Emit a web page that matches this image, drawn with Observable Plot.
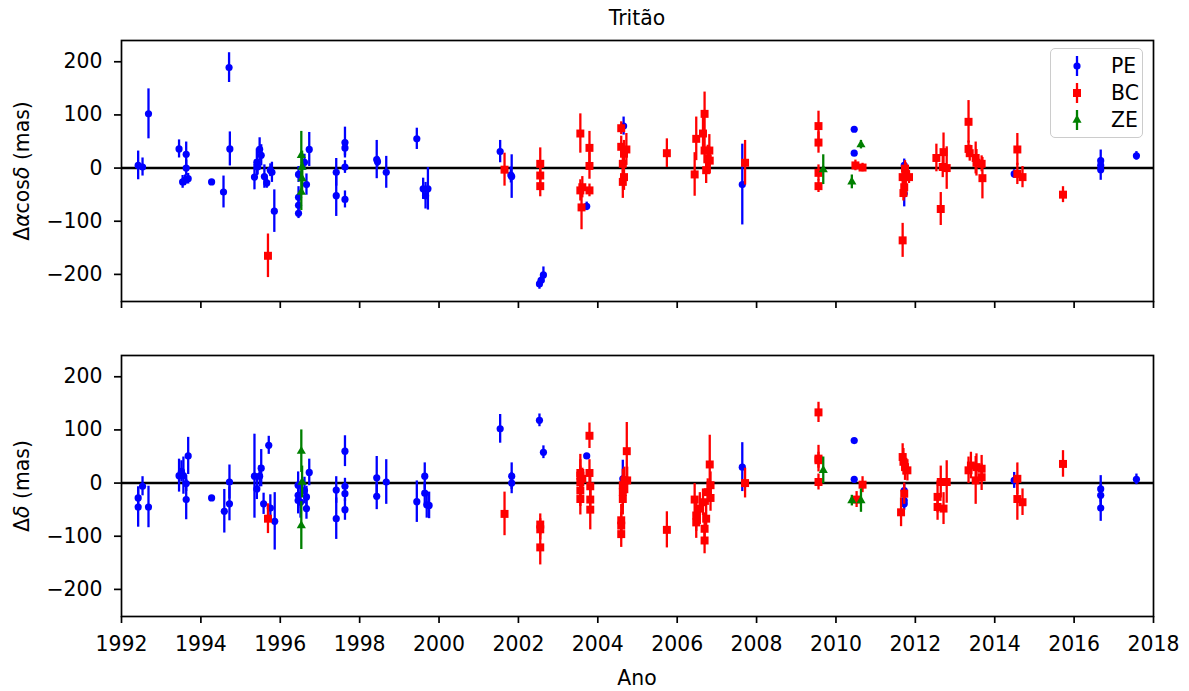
<!DOCTYPE html>
<html><head><meta charset="utf-8">
<script src="https://cdn.jsdelivr.net/npm/d3@7"></script>
<script src="https://cdn.jsdelivr.net/npm/@observablehq/plot@0.6"></script>
<style>
body{margin:0;background:#fff;font-family:"DejaVu Sans",sans-serif;}
#wrap{position:relative;width:1189px;height:691px;overflow:hidden;}
.abs{position:absolute;white-space:nowrap;font-size:20.4px;color:#000;line-height:1;}
.pl{position:absolute;left:0;}
</style>
</head><body><div id="wrap"></div>
<script>
// [epoch (year), offset (mas), uncertainty (mas)]
const peRA = [
[1992.42,5,27],[1992.53,2,17],[1992.68,102,47],[1993.45,36,17],[1993.63,26,23],[1993.63,0,15],
[1993.54,-26,12],[1993.68,-20,10],[1993.60,-23,10],[1994.27,-26,3],[1994.57,-45,30],[1994.71,189,28],
[1994.73,36,32],[1995.35,-17,24],[1995.41,11,25],[1995.48,35,22],[1995.52,24,20],[1995.43,2,15],
[1995.60,-16,22],[1995.66,-28,10],[1995.75,-4,12],[1995.79,-8,19],[1995.85,-81,40],
[1996.46,-12,15],[1996.46,-55,20],[1996.46,-70,20],[1996.46,-85,10],[1996.61,11,15],[1996.66,-31,20],[1996.73,35,32],
[1997.41,-8,26],[1997.41,-52,39],[1997.63,48,29],[1997.63,38,15],[1997.63,2,12],[1997.63,-59,16],
[1998.43,16,36],[1998.45,12,10],[1998.67,-8,30],[1999.44,55,20],[1999.60,-39,20],[1999.66,-52,25],[1999.72,-39,40],
[2001.54,31,21],[2001.83,-16,41],[2001.81,-13,15],[2002.53,-218,10],[2002.57,-211,10],[2002.63,-201,15],
[2003.72,-72,8],[2004.65,79,17],[2007.64,-31,76],
[2010.46,73,3],[2010.46,28,3],[2011.72,5,12],[2011.72,-48,25],[2014.49,-11,8],
[2016.67,14,20],[2016.67,5,15],[2016.67,-3,20],[2017.57,23,8]
];
const bcRA = [
[1995.69,-165,41],[2001.65,-3,31],[2002.55,8,30],[2002.55,-14,15],[2002.55,-34,20],
[2003.56,65,37],[2003.56,-42,20],[2003.59,-74,42],[2003.61,-36,20],[2003.79,38,31],[2003.79,4,25],[2003.79,-42,12],
[2004.59,75,12],[2004.59,40,20],[2004.63,8,20],[2004.66,-17,25],[2004.66,27,25],[2004.72,35,30],[2004.63,-26,31],
[2005.74,28,27],[2006.44,-12,41],[2006.48,55,41],[2006.69,102,41],[2006.65,65,30],[2006.69,33,25],[2006.73,-4,25],
[2006.77,18,25],[2006.81,33,30],[2006.82,14,25],[2007.71,10,42],
[2009.56,79,28],[2009.56,48,20],[2009.56,-9,15],[2009.56,-34,12],[2010.49,5,10],[2010.67,1,8],
[2011.68,-17,20],[2011.68,-136,32],[2011.72,-36,20],[2011.76,-11,20],[2011.70,-47,15],[2011.84,-17,12],[2011.74,-1,15],
[2012.53,19,26],[2012.64,-77,31],[2012.71,30,36],[2012.69,2,20],[2012.79,0,40],
[2013.34,87,40],[2013.34,36,15],[2013.37,28,15],[2013.52,19,30],[2013.54,10,25],[2013.67,8,15],[2013.69,-19,39],
[2014.57,35,30],[2014.57,-11,20],[2014.70,-17,20],[2015.72,-50,15]
];
const zeRA = [
[1996.53,24,45],[1996.55,2,30],[1996.55,-20,30],[1996.53,-45,35],
[2009.68,-3,28],[2010.40,-26,13],[2010.63,44,8]
];
const peDec = [
[1992.42,-28,20],[1992.42,-45,38],[1992.53,-6,18],[1992.68,-45,39],[1993.45,14,31],[1993.51,22,20],
[1993.56,14,35],[1993.63,-1,15],[1993.63,-31,38],[1993.68,51,35],[1994.27,-28,3],[1994.59,-53,41],
[1994.72,2,32],[1994.72,-39,32],[1995.35,13,79],[1995.41,-11,20],[1995.48,13,20],[1995.52,28,35],
[1995.58,-39,20],[1995.71,71,17],[1995.75,-47,25],[1995.86,-72,54],
[1996.45,-4,25],[1996.45,-23,25],[1996.45,-33,25],[1996.51,-36,30],[1996.61,-14,25],[1996.66,-26,20],[1996.66,-48,20],[1996.73,20,25],
[1997.41,-13,25],[1997.41,-67,39],[1997.63,60,29],[1997.63,-6,15],[1997.63,-20,15],[1997.63,-50,20],
[1998.43,10,40],[1998.43,-25,25],[1998.67,2,42],[1999.44,-35,39],[1999.64,13,25],[1999.64,-19,20],[1999.69,-41,25],[1999.75,-42,25],
[2001.54,102,27],[2001.83,13,25],[2001.83,0,20],[2002.53,118,12],[2002.63,58,12],[2003.72,51,3],[2004.63,8,35],[2007.64,30,46],
[2010.46,80,3],[2010.46,7,3],[2011.72,-14,12],[2011.72,-33,12],[2011.72,-39,12],[2014.49,5,15],
[2016.67,-11,25],[2016.67,-23,20],[2016.67,-47,25],[2017.57,7,10]
];
const bcDec = [
[1995.69,-67,28],[2001.65,-58,41],[2002.55,-78,20],[2002.55,-87,20],[2002.55,-121,33],
[2003.56,19,35],[2003.56,14,30],[2003.56,2,30],[2003.56,-14,30],[2003.56,-30,30],[2003.61,8,20],
[2003.79,89,24],[2003.79,19,25],[2003.81,-6,20],[2003.81,-31,20],[2003.81,-50,38],
[2004.59,-70,30],[2004.59,-80,25],[2004.59,-96,25],[2004.63,-4,30],[2004.63,-17,30],[2004.63,-30,30],[2004.67,5,25],[2004.73,60,54],[2004.74,5,25],
[2005.74,-88,34],[2006.44,-31,30],[2006.48,-61,30],[2006.48,-74,30],[2006.57,-48,30],[2006.65,-36,25],
[2006.69,-108,25],[2006.69,-86,30],[2006.73,-67,25],[2006.77,-17,25],[2006.82,35,55],[2006.84,-4,25],[2006.84,-28,25],[2007.71,0,28],
[2009.56,133,19],[2009.56,46,25],[2009.56,43,15],[2009.56,2,15],[2010.52,-31,15],[2010.67,-3,15],
[2011.64,-55,27],[2011.68,49,25],[2011.70,40,25],[2011.74,30,25],[2011.80,24,20],[2011.72,-20,20],
[2012.56,-26,30],[2012.56,-45,25],[2012.64,2,30],[2012.71,-48,30],[2012.79,2,40],
[2013.34,24,25],[2013.40,33,25],[2013.52,5,45],[2013.54,30,25],[2013.67,27,25],[2013.67,11,25],
[2014.57,8,30],[2014.57,-30,40],[2014.70,-36,25],[2015.72,36,25]
];
const zeDec = [
[1996.53,60,40],[1996.55,2,30],[1996.53,-80,45],
[2009.68,24,25],[2010.40,-33,10],[2010.63,-33,22]
];
const seriesNames = ["PE","BC","ZE"];
const seriesColors = ["#0000ff","#ff0000","#008000"];
const seriesSymbols = ["circle","square","triangle"];
const seriesR = [3.6,4.5,3.4];
const xTicks = [1992,1994,1996,1998,2000,2002,2004,2006,2008,2010,2012,2014,2016,2018];
const yTicks = [-200,-100,0,100,200];

const W = 1189, ML = 121, MR = 36;
const fmt = d => d < 0 ? "\u2212" + Math.abs(d) : String(d);

function seriesMarks(sets) {
  const out = [];
  sets.forEach((data, i) => {
    out.push(Plot.ruleX(data, {x: d => d[0], y1: d => d[1] - d[2], y2: d => d[1] + d[2], stroke: seriesColors[i], strokeWidth: 2.3}));
    out.push(Plot.dot(data, {x: d => d[0], y: d => d[1], fill: seriesColors[i], symbol: seriesSymbols[i], r: seriesR[i]}));
  });
  return out;
}

function panel(sets, showX, h, mt, mb) {
  return Plot.plot({
    width: W, height: h, marginLeft: ML, marginRight: MR, marginTop: mt, marginBottom: mb,
    style: {fontFamily: "DejaVu Sans, sans-serif", fontSize: "20.4px", color: "#000", background: "transparent", overflow: "visible"},
    x: {domain: [1992, 2018]},
    y: {domain: [-251, 240]},
    marks: [
      Plot.ruleY([0], {stroke: "black", strokeWidth: 2.5}),
      ...seriesMarks(sets),
      Plot.frame({stroke: "black", strokeWidth: 1.7}),
      Plot.axisX({ticks: xTicks, tickSize: 7, tickPadding: 13, strokeWidth: 1.7, label: null,
        tickFormat: showX ? (d => String(d)) : (() => "")}),
      Plot.axisY({ticks: yTicks, tickSize: 7, tickPadding: 12, strokeWidth: 1.7, label: null, tickFormat: fmt})
    ]
  });
}

const wrap = document.getElementById("wrap");
const p1 = panel([peRA, bcRA, zeRA], false, 310, 40, 9);
p1.classList.add("pl"); p1.style.top = "0px";
wrap.appendChild(p1);
const p2 = panel([peDec, bcDec, zeDec], true, 381, 45, 75);
p2.classList.add("pl"); p2.style.top = "310px";
wrap.appendChild(p2);

function addText(html, css) {
  const d = document.createElement("div");
  d.className = "abs";
  d.innerHTML = html;
  Object.assign(d.style, css);
  wrap.appendChild(d);
  return d;
}
addText("Trit\u00e3o", {left: ML + "px", width: (W - ML - MR) + "px", textAlign: "center", top: "8px"});
addText("Ano", {left: ML + "px", width: (W - ML - MR) + "px", textAlign: "center", top: "668px"});
addText("\u0394<i>\u03b1</i>cos<i>\u03b4</i> (mas)", {left: "22px", top: "171px", transform: "translate(-50%,-50%) rotate(-90deg)"});
addText("\u0394<i>\u03b4</i> (mas)", {left: "22px", top: "486px", transform: "translate(-50%,-50%) rotate(-90deg)"});

// legend
const leg = document.createElement("div");
Object.assign(leg.style, {position: "absolute", left: "1050px", top: "48px", width: "93px", height: "90px",
  border: "1.5px solid #cccccc", borderRadius: "5px", background: "rgba(255,255,255,0.8)", boxSizing: "border-box"});
wrap.appendChild(leg);
seriesNames.forEach((name, i) => {
  const cy = 17 + i * 27;
  const s = d3.create("svg").attr("width", 30).attr("height", 30)
    .style("position", "absolute").style("left", "11px").style("top", (cy - 15) + "px");
  s.append("line").attr("x1", 15).attr("x2", 15).attr("y1", 5).attr("y2", 25)
    .attr("stroke", seriesColors[i]).attr("stroke-width", 2.3);
  const sym = {circle: d3.symbolCircle, square: d3.symbolSquare, triangle: d3.symbolTriangle}[seriesSymbols[i]];
  s.append("path").attr("transform", "translate(15,15)")
    .attr("d", d3.symbol(sym, Math.PI * seriesR[i] * seriesR[i])())
    .attr("fill", seriesColors[i]);
  leg.appendChild(s.node());
  const t = document.createElement("div");
  t.className = "abs";
  t.textContent = name;
  Object.assign(t.style, {left: "60px", top: (cy - 10) + "px"});
  leg.appendChild(t);
});
</script>
</body></html>
